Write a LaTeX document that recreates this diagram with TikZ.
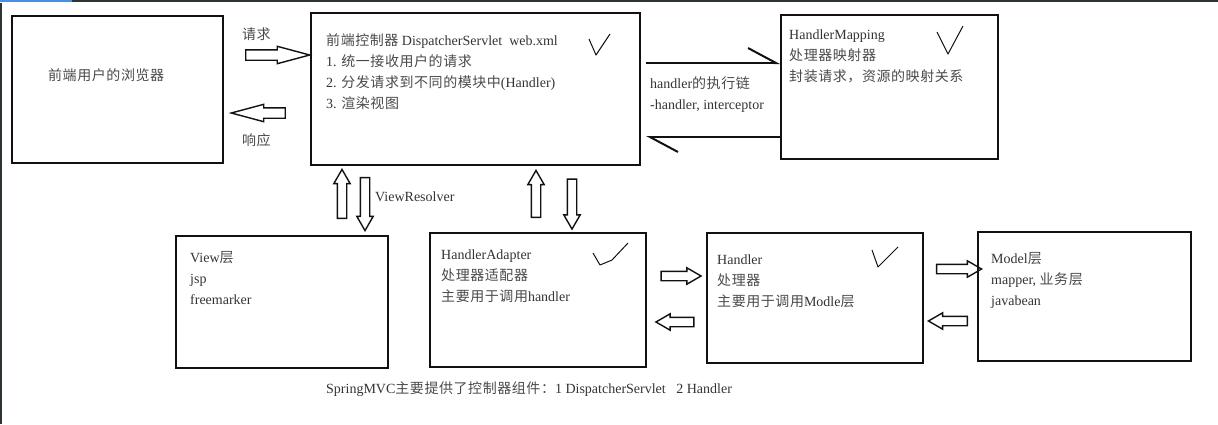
\documentclass[tikz,border=0pt]{standalone}
\usepackage{fontspec}
\setmainfont{Liberation Serif}
\newfontfamily\cjk[LetterSpace=4]{Noto Sans CJK SC}
\usetikzlibrary{shapes.arrows,arrows.meta,positioning}
\newcommand{\zhtext}[1]{{\cjk\color{zhgray}#1}}
\definecolor{ink}{HTML}{333333}
\definecolor{zhgray}{HTML}{4A4A4A}
\definecolor{rim}{HTML}{111111}

\begin{document}
\begin{tikzpicture}[
	x=1pt, y=-1pt,
	every node/.style={font=\fontsize{14}{21}\selectfont, text=ink},
	box/.style={draw=rim, line width=2pt, inner sep=0pt},
	txt/.style={anchor=north west, inner sep=0pt, align=left},
	lbl/.style={anchor=west, inner sep=0pt},
	fat/.style={single arrow, draw=rim, line width=1.4pt, inner sep=4pt,
		single arrow head extend=3.5pt, single arrow tip angle=60},
	slim/.style={fat, inner sep=4.5pt, single arrow tip angle=30},
	half/.style={draw=rim, line width=2pt, -{Straight Barb[left, length=28pt, width=30pt]}},
	tick/.style={draw=rim, line width=1pt, line join=round}
]
\useasboundingbox (0,0) rectangle (1218,424);
% screen edge
\draw[line width=2.5pt, color={rgb,255:red,74;green,144;blue,226}] (0,1) -- (72,1);
\draw[line width=2.5pt, color={rgb,255:red,45;green,52;blue,54}] (72,1) -- (1218,1);
\draw[line width=2.5pt, color={rgb,255:red,45;green,52;blue,54}] (1,3) -- (1,424);

% boxes
\node[box, minimum width=211pt, minimum height=147pt] (browser) at (117.5,89.5) {};
\node[box, minimum width=329pt, minimum height=152pt] (ds) at (475.5,89) {};
\node[box, minimum width=217pt, minimum height=144pt] (hm) at (889.5,87) {};
\node[box, minimum width=212pt, minimum height=132pt] (view) at (282,302) {};
\node[box, minimum width=216pt, minimum height=134pt] (ha) at (538,300) {};
\node[box, minimum width=216pt, minimum height=130pt] (handler) at (815,298) {};
\node[box, minimum width=213pt, minimum height=129pt] (model) at (1084.5,296.5) {};

% box texts
\node[lbl] (browsertxt) at (48,75) {\zhtext{前端用户的浏览器}};
\node[txt] (dstxt) at ([shift={(16,21)}]ds.north west)
	{\zhtext{前端控制器} DispatcherServlet\ \ web.xml\\
	 1. \zhtext{统一接收用户的请求}\\
	 2. \zhtext{分发请求到不同的模块中}(Handler)\\
	 3. \zhtext{渲染视图}};
\node[txt] (hmtxt) at ([shift={(9,16)}]hm.north west)
	{HandlerMapping\\ \zhtext{处理器映射器}\\ \zhtext{封装请求，资源的映射关系}};
\node[txt] (viewtxt) at ([shift={(15,16)}]view.north west)
	{View\zhtext{层}\\ jsp\\ freemarker};
\node[txt] (hatxt) at ([shift={(12,18)}]ha.north west)
	{HandlerAdapter\\ \zhtext{处理器适配器}\\ \zhtext{主要用于调用}handler};
\node[txt] (handlertxt) at ([shift={(11,23)}]handler.north west)
	{Handler\\ \zhtext{处理器}\\ \zhtext{主要用于调用}Modle\zhtext{层}};
\node[txt] (modeltxt) at ([shift={(14,21)}]model.north west)
	{Model\zhtext{层}\\ mapper, \zhtext{业务层}\\ javabean};

% block arrows
\node[slim, minimum height=64pt] (req) at (268,55) {};
\node[slim, minimum height=54pt, shape border rotate=180] (resp) at (268,113) {};
\node[fat, minimum height=49pt, shape border rotate=90] (vup) at (342,198) {};
\node[fat, minimum height=53pt, shape border rotate=270] (vdown) at (365,200) {};
\node[fat, minimum height=47pt, shape border rotate=90] (aup) at (536,198) {};
\node[fat, minimum height=50pt, shape border rotate=270] (adown) at (572,200) {};
\node[fat, minimum height=40pt] (toh) at (677,276) {};
\node[fat, minimum height=38pt, shape border rotate=180] (fromh) at (679,322) {};
\node[fat, minimum height=45pt] (tom) at (955,269) {};
\node[fat, minimum height=39pt, shape border rotate=180] (fromm) at (952,321) {};

% arrow labels
\node[lbl] (reqtxt) at (242,34) {\zhtext{请求}};
\node[lbl] (resptxt) at (242,140) {\zhtext{响应}};
\node[lbl] (vrtxt) at (375,197) {ViewResolver};
\node[txt] (chaintxt) at (650,76) {handler\zhtext{的执行链}\\ -handler, interceptor};

% handler mapping lines
\draw[half] ([shift={(5,-26)}]ds.east) -- ([shift={(0,-26)}]ds.east -| hm.west);
\draw[half] ([shift={(0,48)}]ds.east -| hm.west) -- ([shift={(5,48)}]ds.east);

% ticks
\draw[tick] (589,39) -- (596,55) -- (608,37) -- (610,34);
\draw[tick] (937,32) -- (948,54) -- (963,26);
\draw[tick] (593,253) -- (600,265) -- (612,260) -- (628,243);
\draw[tick] (872,250) -- (878,267) -- (898,247);

% caption
\node[lbl] (caption) at (326,389)
	{SpringMVC\zhtext{主要提供了控制器组件：}1 DispatcherServlet\ \ \ 2 Handler};
\end{tikzpicture}
\end{document}
